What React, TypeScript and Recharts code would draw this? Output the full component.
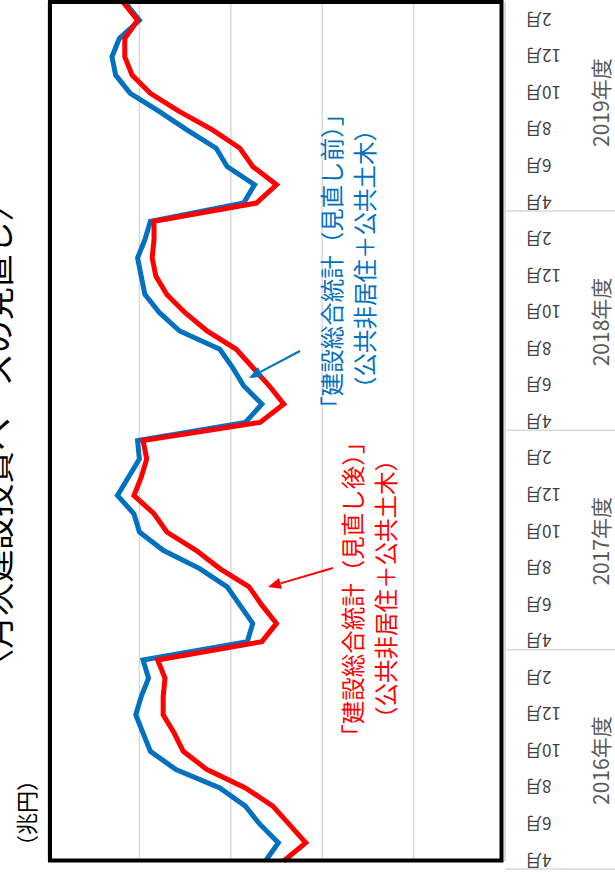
import { LineChart, Line, XAxis, YAxis, CartesianGrid } from 'recharts';

const fiscalYears = ['2016年度', '2017年度', '2018年度', '2019年度'];
const months = ['4月', '5月', '6月', '7月', '8月', '9月', '10月', '11月', '12月', '1月', '2月', '3月'];

// 公共非居住＋公共土木（兆円）、2016年4月〜2020年3月
const beforeRevision = [
  1.31, 1.24, 1.34, 1.42, 1.56, 1.80, 1.94, 1.98, 2.02, 1.99, 1.95, 1.98,
  1.41, 1.38, 1.45, 1.52, 1.67, 1.87, 2.00, 2.03, 2.12, 2.06, 2.00, 2.01,
  1.42, 1.33, 1.43, 1.49, 1.56, 1.78, 1.89, 1.97, 1.99, 2.01, 1.97, 1.94,
  1.43, 1.37, 1.52, 1.58, 1.74, 1.89, 2.05, 2.13, 2.15, 2.11, 2.00, 2.08,
];
const afterRevision = [
  1.21, 1.09, 1.18, 1.27, 1.42, 1.63, 1.76, 1.81, 1.87, 1.87, 1.86, 1.90,
  1.33, 1.25, 1.33, 1.40, 1.56, 1.69, 1.85, 1.92, 2.03, 1.99, 1.96, 1.98,
  1.34, 1.21, 1.29, 1.38, 1.47, 1.63, 1.75, 1.85, 1.91, 1.93, 1.92, 1.92,
  1.36, 1.25, 1.38, 1.45, 1.60, 1.78, 1.94, 2.04, 2.08, 2.08, 2.01, 2.09,
];
const valueTicks = [0, 0.5, 1, 1.5, 2, 2.5];

const data = fiscalYears.flatMap((fy, yi) =>
  months.map((m, mi) => ({
    key: `${fy}${m}`,
    before: beforeRevision[yi * 12 + mi],
    after: afterRevision[yi * 12 + mi],
  }))
);

const font = '"Noto Sans CJK JP", "Noto Sans", sans-serif';
const BLUE = '#0070C0';
const RED = '#FF0000';

function MonthTick(props: any) {
  const { x, y, index } = props;
  const m = index % 12;
  const fy = Math.floor(index / 12);
  const mx = x + 20;
  const yx = x + 95;
  return (
    <g>
      {m % 2 === 0 && (
        <text
          x={mx}
          y={y}
          transform={`rotate(180, ${mx}, ${y})`}
          textAnchor="end"
          dominantBaseline="central"
          style={{ fontSize: 17, fontFamily: font }}
          fill="#404040"
        >
          {months[m]}
        </text>
      )}
      {m === 5 && (
        <text
          x={yx}
          y={y - 9}
          transform={`rotate(-90, ${yx}, ${y - 9})`}
          textAnchor="middle"
          dominantBaseline="central"
          style={{ fontSize: 21, fontFamily: font }}
          fill="#595959"
        >
          {fiscalYears[fy]}
        </text>
      )}
      {m === 0 && <line x1={x} x2={x + 110} y1={y + 8} y2={y + 8} stroke="#d9d9d9" strokeWidth={1.5} />}
    </g>
  );
}

function Arrow({ x1, y1, x2, y2, color }: { x1: number; y1: number; x2: number; y2: number; color: string }) {
  const len = Math.hypot(x2 - x1, y2 - y1);
  const ux = (x2 - x1) / len;
  const uy = (y2 - y1) / len;
  const bx = x2 - ux * 13;
  const by = y2 - uy * 13;
  const nx = -uy * 5.5;
  const ny = ux * 5.5;
  return (
    <g>
      <line x1={x1} y1={y1} x2={bx} y2={by} stroke={color} strokeWidth={2} />
      <polygon points={`${x2},${y2} ${bx + nx},${by + ny} ${bx - nx},${by - ny}`} fill={color} />
    </g>
  );
}

function VText({ x, y, size, color, children }: { x: number; y: number; size: number; color: string; children: string }) {
  return (
    <text
      x={x}
      y={y}
      transform={`rotate(-90, ${x}, ${y})`}
      textAnchor="middle"
      dominantBaseline="central"
      style={{ fontSize: size, fontFamily: font }}
      fill={color}
    >
      {children}
    </text>
  );
}

export default function App() {
  return (
    <div style={{ position: 'fixed', left: 0, top: 0, width: 615, height: 873, background: '#fff', overflow: 'hidden' }}>
      <LineChart
        layout="vertical"
        width={615}
        height={873}
        data={data}
        margin={{ top: 2, right: 0, bottom: 12, left: 48 }}
      >
        <CartesianGrid horizontal={false} stroke="#d9d9d9" strokeWidth={1.5} />
        <XAxis type="number" domain={[0, 2.5]} ticks={valueTicks} reversed hide />
        <YAxis
          type="category"
          dataKey="key"
          orientation="right"
          reversed
          width={110}
          interval={0}
          tickLine={false}
          tickSize={0}
          tickMargin={0}
          axisLine={{ stroke: '#d9d9d9', strokeWidth: 1.5 }}
          tick={<MonthTick />}
        />
        <Line type="linear" dataKey="before" stroke={BLUE} strokeWidth={5} dot={false} isAnimationActive={false} />
        <Line type="linear" dataKey="after" stroke={RED} strokeWidth={5} dot={false} isAnimationActive={false} />
      </LineChart>
      <svg width={615} height={873} style={{ position: 'absolute', left: 0, top: 0, pointerEvents: 'none' }}>
        <rect x={50} y={2} width={451.5} height={858.5} fill="none" stroke="#000" strokeWidth={4} />
        <VText x={-4} y={435} size={33} color="#000">〈月次建設投資ベースの見直し〉</VText>
        <VText x={25} y={813} size={22} color="#000">（兆円）</VText>
        <VText x={331} y={261} size={23.5} color={BLUE}>「建設総合統計（見直し前）」</VText>
        <VText x={364} y={259} size={23.5} color={BLUE}>（公共非居住＋公共土木）</VText>
        <VText x={352} y={589} size={23.5} color={RED}>「建設総合統計（見直し後）」</VText>
        <VText x={385} y={589} size={23.5} color={RED}>（公共非居住＋公共土木）</VText>
        <Arrow x1={300} y1={351} x2={249} y2={378} color={BLUE} />
        <Arrow x1={333} y1={568} x2={268} y2={587} color={RED} />
      </svg>
    </div>
  );
}
